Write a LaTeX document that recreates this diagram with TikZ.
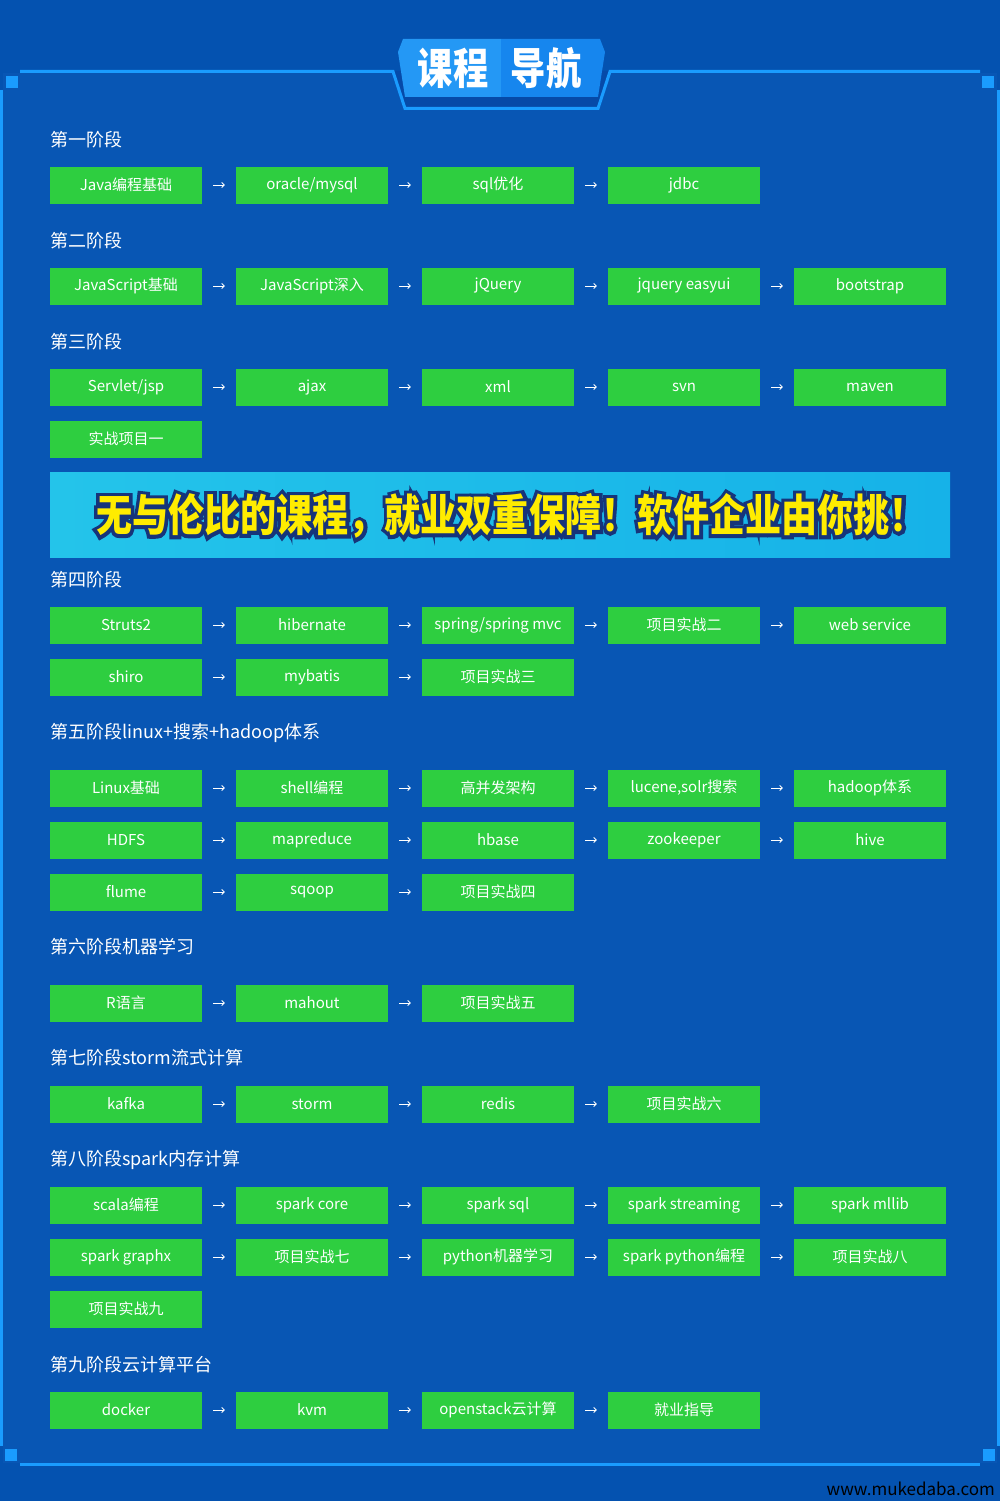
\documentclass[tikz,border=0pt]{standalone}
\usepackage{fontspec}
\setmainfont{Noto Sans CJK SC}
\newfontfamily\bannerfont[FakeStretch=0.82]{Noto Sans CJK SC}
\newfontfamily\bannerrim[FakeStretch=0.82,FakeBold=16]{Noto Sans CJK SC}
\usetikzlibrary{arrows.meta}

\definecolor{bgblue}{RGB}{4,82,176}
\definecolor{panelblue}{RGB}{8,86,180}
\definecolor{frameblue}{RGB}{26,156,255}
\definecolor{bandblue}{RGB}{6,74,168}
\definecolor{badgeL}{RGB}{36,152,245}
\definecolor{badgeR}{RGB}{22,134,238}
\definecolor{coursegreen}{RGB}{46,206,64}
\definecolor{bannerA}{RGB}{36,196,234}
\definecolor{bannerB}{RGB}{62,220,242}
\definecolor{bannerC}{RGB}{22,178,232}
\definecolor{slogan}{RGB}{255,236,0}
\definecolor{sloganedge}{RGB}{22,52,122}

\tikzset{
  course/.style={fill=coursegreen, text=white, minimum width=152pt, minimum height=37pt, inner sep=0pt, font=\fontsize{15}{15}\selectfont},
  stage/.style={anchor=west, text=white, inner sep=0pt, font=\fontsize{18}{18}\selectfont},
  flow/.style={draw=white, line width=0.9pt, -{Straight Barb[length=2.5pt,width=5pt]}, shorten <=11pt, shorten >=11pt},
  slogantext/.style={inner sep=0pt, font=\bannerfont\bfseries\fontsize{44}{44}\selectfont},
}

\begin{document}
\begin{tikzpicture}[x=1pt,y=-1pt]
\useasboundingbox (0,0) rectangle (1000,1501);
\fill[bgblue] (0,0) rectangle (1000,1501);

	% frame
	\fill[panelblue] (3,73) rectangle (997,1463);
	\fill[frameblue] (0,90) rectangle (3,1446);
	\fill[frameblue] (997,90) rectangle (1000,1446);
	\fill[frameblue] (20,1463) rectangle (980,1466);
	\fill[frameblue] (6,76) rectangle (18,88);
	\fill[frameblue] (982,76) rectangle (994,88);
	\fill[frameblue] (5,1449) rectangle (17,1461);
	\fill[frameblue] (983,1449) rectangle (995,1461);

	% title badge
	\fill[bandblue] (393,71)--(405,108)--(598,108)--(610,71)--cycle;
	\draw[frameblue,line width=3pt] (20,71.5)--(393,71.5)--(405,108.5)--(598,108.5)--(610,71.5)--(980,71.5);
	\fill[badgeL] (403,39)--(501,39)--(501,97)--(405,97)--(398,52)--cycle;
	\fill[badgeR] (501,39)--(600,39)--(605,52)--(598,97)--(501,97)--cycle;
	\node[slogantext,text=white,font=\bannerfont\bfseries\fontsize{43}{43}\selectfont] (title1) at (453,68) {课程};
	\node[slogantext,text=white,font=\bannerfont\bfseries\fontsize{43}{43}\selectfont] (title2) at (546,68) {导航};

	% stage 1
	\node[stage] (st1) at (50,140) {第一阶段};
	\node[course] (c1-1) at (126,185) {Java编程基础};
	\node[course] (c1-2) at (312,185) {oracle/mysql};
	\node[course] (c1-3) at (498,185) {sql优化};
	\node[course] (c1-4) at (684,185) {jdbc};
	\draw[flow] (c1-1) -- (c1-2);
	\draw[flow] (c1-2) -- (c1-3);
	\draw[flow] (c1-3) -- (c1-4);

	% stage 2
	\node[stage] (st2) at (50,241) {第二阶段};
	\node[course] (c2-1) at (126,286) {JavaScript基础};
	\node[course] (c2-2) at (312,286) {JavaScript深入};
	\node[course] (c2-3) at (498,286) {jQuery};
	\node[course] (c2-4) at (684,286) {jquery easyui};
	\node[course] (c2-5) at (870,286) {bootstrap};
	\draw[flow] (c2-1) -- (c2-2);
	\draw[flow] (c2-2) -- (c2-3);
	\draw[flow] (c2-3) -- (c2-4);
	\draw[flow] (c2-4) -- (c2-5);

	% stage 3
	\node[stage] (st3) at (50,342) {第三阶段};
	\node[course] (c3-1) at (126,387) {Servlet/jsp};
	\node[course] (c3-2) at (312,387) {ajax};
	\node[course] (c3-3) at (498,387) {xml};
	\node[course] (c3-4) at (684,387) {svn};
	\node[course] (c3-5) at (870,387) {maven};
	\node[course] (c3-6) at (126,439) {实战项目一};
	\draw[flow] (c3-1) -- (c3-2);
	\draw[flow] (c3-2) -- (c3-3);
	\draw[flow] (c3-3) -- (c3-4);
	\draw[flow] (c3-4) -- (c3-5);

	% banner
	\shade[left color=bannerA, middle color=bannerB, right color=bannerC] (50,472) rectangle (950,557);
	\node[slogantext,text=sloganedge,font=\bannerrim\bfseries\fontsize{44}{44}\selectfont] (rim) at (511,516) {无与伦比的课程，就业双重保障！软件企业由你挑！};
	\node[slogantext,text=slogan] (slogan) at (rim) {无与伦比的课程，就业双重保障！软件企业由你挑！};

	% stage 4
	\node[stage] (st4) at (50,580) {第四阶段};
	\node[course] (c4-1) at (126,625) {Struts2};
	\node[course] (c4-2) at (312,625) {hibernate};
	\node[course] (c4-3) at (498,625) {spring/spring mvc};
	\node[course] (c4-4) at (684,625) {项目实战二};
	\node[course] (c4-5) at (870,625) {web service};
	\node[course] (c4-6) at (126,677) {shiro};
	\node[course] (c4-7) at (312,677) {mybatis};
	\node[course] (c4-8) at (498,677) {项目实战三};
	\draw[flow] (c4-1) -- (c4-2);
	\draw[flow] (c4-2) -- (c4-3);
	\draw[flow] (c4-3) -- (c4-4);
	\draw[flow] (c4-4) -- (c4-5);
	\draw[flow] (c4-6) -- (c4-7);
	\draw[flow] (c4-7) -- (c4-8);

	% stage 5
	\node[stage] (st5) at (50,733) {第五阶段linux+搜索+hadoop体系};
	\node[course] (c5-1) at (126,788) {Linux基础};
	\node[course] (c5-2) at (312,788) {shell编程};
	\node[course] (c5-3) at (498,788) {高并发架构};
	\node[course] (c5-4) at (684,788) {lucene,solr搜索};
	\node[course] (c5-5) at (870,788) {hadoop体系};
	\node[course] (c5-6) at (126,840) {HDFS};
	\node[course] (c5-7) at (312,840) {mapreduce};
	\node[course] (c5-8) at (498,840) {hbase};
	\node[course] (c5-9) at (684,840) {zookeeper};
	\node[course] (c5-10) at (870,840) {hive};
	\node[course] (c5-11) at (126,892) {flume};
	\node[course] (c5-12) at (312,892) {sqoop};
	\node[course] (c5-13) at (498,892) {项目实战四};
	\draw[flow] (c5-1) -- (c5-2);
	\draw[flow] (c5-2) -- (c5-3);
	\draw[flow] (c5-3) -- (c5-4);
	\draw[flow] (c5-4) -- (c5-5);
	\draw[flow] (c5-6) -- (c5-7);
	\draw[flow] (c5-7) -- (c5-8);
	\draw[flow] (c5-8) -- (c5-9);
	\draw[flow] (c5-9) -- (c5-10);
	\draw[flow] (c5-11) -- (c5-12);
	\draw[flow] (c5-12) -- (c5-13);

	% stage 6
	\node[stage] (st6) at (50,947) {第六阶段机器学习};
	\node[course] (c6-1) at (126,1003) {R语言};
	\node[course] (c6-2) at (312,1003) {mahout};
	\node[course] (c6-3) at (498,1003) {项目实战五};
	\draw[flow] (c6-1) -- (c6-2);
	\draw[flow] (c6-2) -- (c6-3);

	% stage 7
	\node[stage] (st7) at (50,1058) {第七阶段storm流式计算};
	\node[course] (c7-1) at (126,1104) {kafka};
	\node[course] (c7-2) at (312,1104) {storm};
	\node[course] (c7-3) at (498,1104) {redis};
	\node[course] (c7-4) at (684,1104) {项目实战六};
	\draw[flow] (c7-1) -- (c7-2);
	\draw[flow] (c7-2) -- (c7-3);
	\draw[flow] (c7-3) -- (c7-4);

	% stage 8
	\node[stage] (st8) at (50,1160) {第八阶段spark内存计算};
	\node[course] (c8-1) at (126,1205) {scala编程};
	\node[course] (c8-2) at (312,1205) {spark core};
	\node[course] (c8-3) at (498,1205) {spark sql};
	\node[course] (c8-4) at (684,1205) {spark streaming};
	\node[course] (c8-5) at (870,1205) {spark mllib};
	\node[course] (c8-6) at (126,1257) {spark graphx};
	\node[course] (c8-7) at (312,1257) {项目实战七};
	\node[course] (c8-8) at (498,1257) {python机器学习};
	\node[course] (c8-9) at (684,1257) {spark python编程};
	\node[course] (c8-10) at (870,1257) {项目实战八};
	\node[course] (c8-11) at (126,1309) {项目实战九};
	\draw[flow] (c8-1) -- (c8-2);
	\draw[flow] (c8-2) -- (c8-3);
	\draw[flow] (c8-3) -- (c8-4);
	\draw[flow] (c8-4) -- (c8-5);
	\draw[flow] (c8-6) -- (c8-7);
	\draw[flow] (c8-7) -- (c8-8);
	\draw[flow] (c8-8) -- (c8-9);
	\draw[flow] (c8-9) -- (c8-10);

	% stage 9
	\node[stage] (st9) at (50,1365) {第九阶段云计算平台};
	\node[course] (c9-1) at (126,1410) {docker};
	\node[course] (c9-2) at (312,1410) {kvm};
	\node[course] (c9-3) at (498,1410) {openstack云计算};
	\node[course] (c9-4) at (684,1410) {就业指导};
	\draw[flow] (c9-1) -- (c9-2);
	\draw[flow] (c9-2) -- (c9-3);
	\draw[flow] (c9-3) -- (c9-4);

	% footer
	\node[anchor=base east,inner sep=0pt,font=\fontsize{17}{17}\selectfont] (site) at (995,1495) {www.mukedaba.com};

\end{tikzpicture}
\end{document}
